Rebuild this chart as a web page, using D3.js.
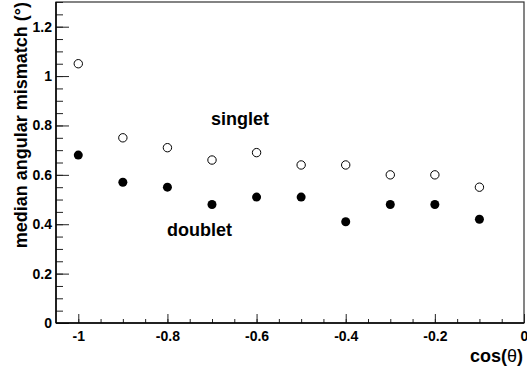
<!DOCTYPE html>
<html><head><meta charset="utf-8">
<script src="https://cdn.jsdelivr.net/npm/d3@7"></script>
<style>
html,body{margin:0;padding:0;background:#fff;}
text{font-family:"Liberation Sans",Arial,sans-serif;font-weight:bold;fill:#000;}
</style></head>
<body><svg id="c" width="527" height="371"></svg>
<script>
const cosTheta = [-1, -0.9, -0.8, -0.7, -0.6, -0.5, -0.4, -0.3, -0.2, -0.1];
const singlet = [1.05, 0.75, 0.71, 0.66, 0.69, 0.64, 0.64, 0.60, 0.60, 0.55];
const doublet = [0.68, 0.57, 0.55, 0.48, 0.51, 0.51, 0.41, 0.48, 0.48, 0.42];
const xTickLabels = [-1, -0.8, -0.6, -0.4, -0.2, 0];
const yTickLabels = [0, 0.2, 0.4, 0.6, 0.8, 1, 1.2];

const svg = d3.select("#c");
const L = 56, R = 524, T = 2, B = 323;
const x = d3.scaleLinear().domain([-1.05, 0]).range([L, R]);
const y = d3.scaleLinear().domain([0, 1.3]).range([B, T]);

// frame
svg.append("rect").attr("x", L).attr("y", T).attr("width", R - L).attr("height", B - T)
  .attr("fill", "none").attr("stroke", "#333").attr("stroke-width", 1.2);

// minor ticks
const xMinor = d3.range(-1.0, 0.0001, 0.05).map(v => +v.toFixed(2));
const yMinor = d3.range(0.05, 1.30001, 0.05).map(v => +v.toFixed(2));

const gx = svg.append("g").attr("transform", `translate(0,${B})`);
gx.call(d3.axisTop(x).tickValues(xMinor).tickSize(4).tickFormat(""));
gx.append("g").call(d3.axisTop(x).tickValues(xTickLabels).tickSize(9).tickFormat(""));
gx.append("g").call(d3.axisBottom(x).tickValues(xTickLabels).tickSize(0).tickPadding(6)
  .tickFormat(d => d === 0 ? "0" : String(d)));
gx.selectAll(".domain").remove();
gx.selectAll("line").attr("stroke", "#222");
gx.selectAll("text").style("font-size", "14px").style("font-family", '"Liberation Sans",Arial,sans-serif').style("font-weight", "bold").attr("dy", "1em").attr("y", 4);

const gy = svg.append("g").attr("transform", `translate(${L},0)`);
gy.call(d3.axisRight(y).tickValues(yMinor).tickSize(7).tickFormat(""));
gy.append("g").call(d3.axisRight(y).tickValues(yTickLabels).tickSize(13).tickFormat(""));
gy.append("g").call(d3.axisLeft(y).tickValues(yTickLabels).tickSize(0).tickPadding(4)
  .tickFormat(d => String(d)));
gy.selectAll(".domain").remove();
gy.selectAll("line").attr("stroke", "#222");
gy.selectAll("text").style("font-size", "14px").style("font-family", '"Liberation Sans",Arial,sans-serif').style("font-weight", "bold");

// axis lines
svg.append("line").attr("x1", L).attr("x2", R).attr("y1", B).attr("y2", B).attr("stroke", "#000").attr("stroke-width", 1.5);
svg.append("line").attr("x1", L).attr("x2", L).attr("y1", T).attr("y2", B).attr("stroke", "#000").attr("stroke-width", 1.5);

// points
svg.append("g").selectAll("circle").data(cosTheta).join("circle")
  .attr("cx", (d) => x(d)).attr("cy", (d, i) => y(singlet[i])).attr("r", 4.2)
  .attr("fill", "#fff").attr("stroke", "#000").attr("stroke-width", 1);
svg.append("g").selectAll("circle").data(cosTheta).join("circle")
  .attr("cx", (d) => x(d)).attr("cy", (d, i) => y(doublet[i])).attr("r", 4.5)
  .attr("fill", "#000");

// labels
svg.append("text").attr("x", 211).attr("y", 125).style("font-size", "18px").text("singlet");
svg.append("text").attr("x", 167).attr("y", 236).style("font-size", "18px").text("doublet");

svg.append("text").attr("transform", "translate(27,2) rotate(-90)")
  .attr("text-anchor", "end").style("font-size", "18px").text("median angular mismatch (°)");
const xl = svg.append("text").attr("x", 523).attr("y", 362).attr("text-anchor", "end").style("font-size", "18px");
xl.append("tspan").text("cos(");
xl.append("tspan").style("font-weight", "normal").text("θ");
xl.append("tspan").text(")");
</script></body></html>
